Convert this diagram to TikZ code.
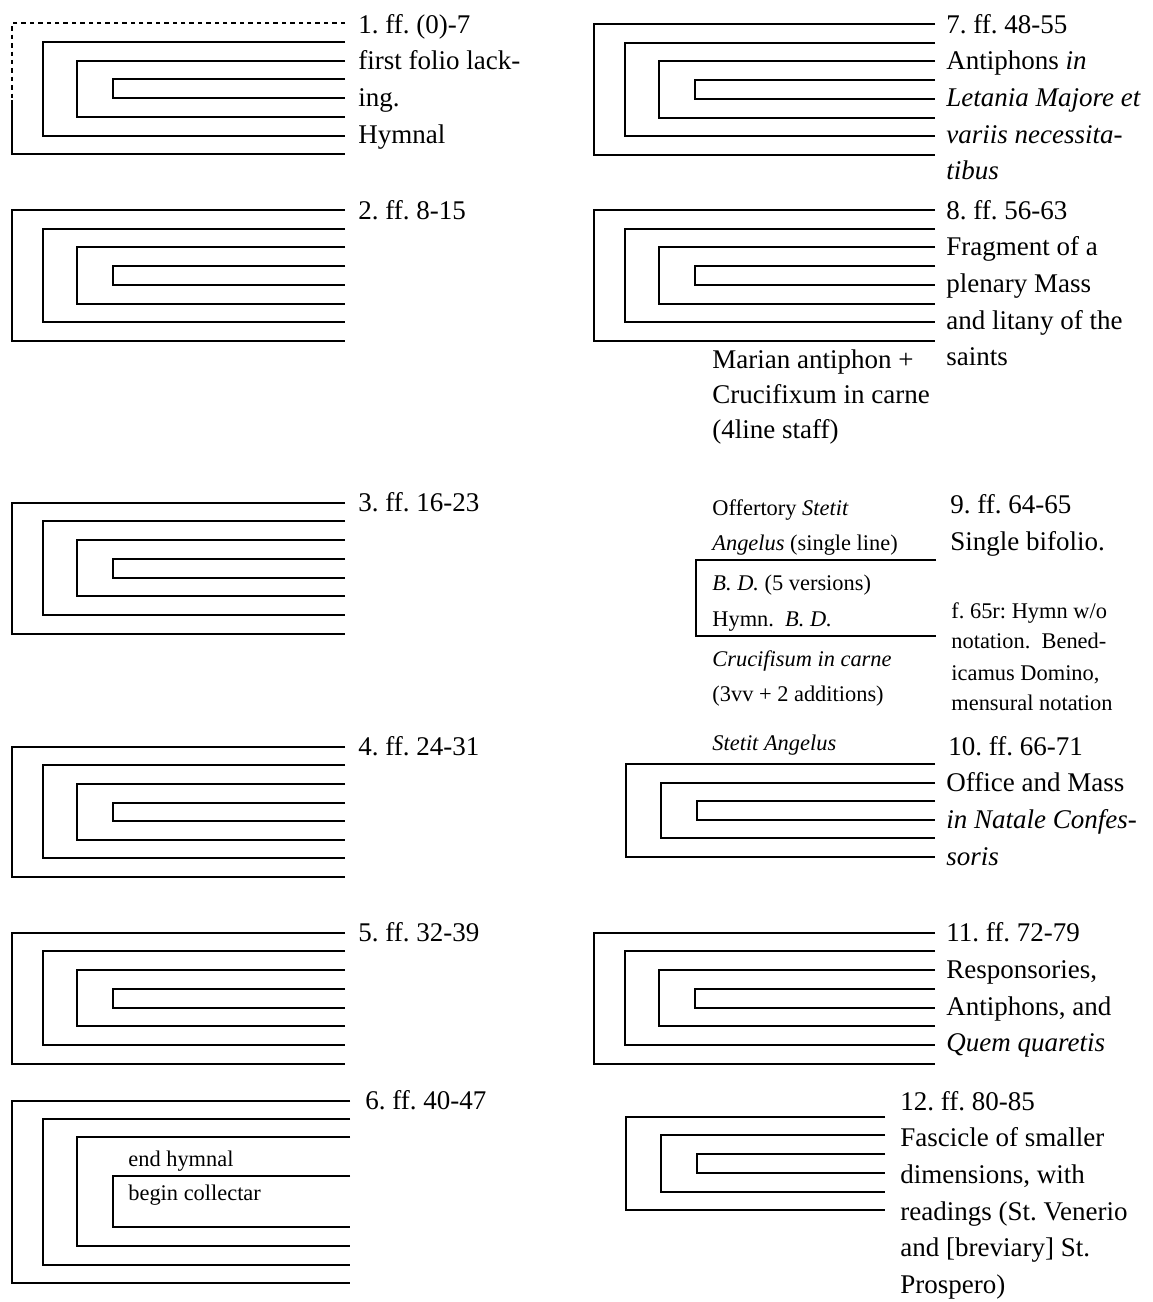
\documentclass[tikz,border=0pt]{standalone}
\usepackage{fontspec}
\setmainfont{Liberation Serif}
\frenchspacing
\tikzset{
  gl/.style={line width=1pt},
  lostleaf/.style={line width=1.1pt, dash pattern=on 2.2pt off 2pt},
  lbl/.style={anchor=base west, inner sep=0pt, font=\fontsize{13.5}{16}\selectfont},
  sml/.style={anchor=base west, inner sep=0pt, font=\fontsize{11.2}{13}\selectfont},
}
% four nested bifolia: #1 outer left x, #2 top y, #3 spacing, #4 right x
\newcommand\quireA[4]{%
  \foreach \i/\dx in {0/0,1/31,2/65,3/101}{%
    \draw[gl] (#4,#2+\i*#3) -- (#1+\dx,#2+\i*#3) -- (#1+\dx,#2+7*#3-\i*#3) -- (#4,#2+7*#3-\i*#3);}}
% three nested bifolia
\newcommand\quireB[4]{%
  \foreach \i/\dx in {0/0,1/35,2/71}{%
    \draw[gl] (#4,#2+\i*#3) -- (#1+\dx,#2+\i*#3) -- (#1+\dx,#2+5*#3-\i*#3) -- (#4,#2+5*#3-\i*#3);}}
\begin{document}
\begin{tikzpicture}[x=0.5pt,y=-0.5pt]
\useasboundingbox (0,0) rectangle (1152,1302);

% ---------- left column ----------
% 1
\draw[lostleaf] (345,23.3) -- (12,23.3) -- (12,100);
\draw[gl] (12,100) -- (12,154.2) -- (345,154.2);
\foreach \i/\dx in {1/31,2/65,3/101}{%
  \draw[gl] (345,23.3+\i*18.7) -- (12+\dx,23.3+\i*18.7) -- (12+\dx,23.3+7*18.7-\i*18.7) -- (345,23.3+7*18.7-\i*18.7);}
\node[lbl] (t1a) at (358,33) {1. ff. (0)-7};
\node[lbl] (t1b) at (358,69.7) {first folio lack-};
\node[lbl] (t1c) at (358,106.3) {ing.};
\node[lbl] (t1d) at (358,143) {Hymnal};
% 2
\quireA{12}{210}{18.7}{345}
\node[lbl] (t2a) at (358,219) {2. ff. 8-15};
% 3
\quireA{12}{502.7}{18.7}{345}
\node[lbl] (t3a) at (358,511.7) {3. ff. 16-23};
% 4
\quireA{12}{746.7}{18.6}{345}
\node[lbl] (t4a) at (358,755.7) {4. ff. 24-31};
% 5
\quireA{12}{932.7}{18.7}{345}
\node[lbl] (t5a) at (358,941.7) {5. ff. 32-39};
% 6
\draw[gl] (350,1100.7) -- (12,1100.7) -- (12,1283.3) -- (350,1283.3);
\draw[gl] (350,1119.3) -- (43,1119.3) -- (43,1264.7) -- (350,1264.7);
\draw[gl] (350,1137.3) -- (77,1137.3) -- (77,1245.7) -- (350,1245.7);
\draw[gl] (350,1176) -- (113,1176) -- (113,1227.3) -- (350,1227.3);
\node[lbl] (t6a) at (365,1109.5) {6. ff. 40-47};
\node[sml] (t6b) at (128,1166) {end hymnal};
\node[sml] (t6c) at (128,1200) {begin collectar};

% ---------- right column ----------
% 7
\quireA{594}{24}{18.7}{935}
\node[lbl] (t7a) at (946,33) {7. ff. 48-55};
\node[lbl] (t7b) at (946,69.7) {Antiphons \textit{in}};
\node[lbl] (t7c) at (946,106.3) {\textit{Letania Majore et}};
\node[lbl] (t7d) at (946,143) {\textit{variis necessita-}};
\node[lbl] (t7e) at (946,179.7) {\textit{tibus}};
% 8
\quireA{594}{210}{18.7}{935}
\node[lbl] (t8a) at (946,219) {8. ff. 56-63};
\node[lbl] (t8b) at (946,255.7) {Fragment of a};
\node[lbl] (t8c) at (946,292.3) {plenary Mass};
\node[lbl] (t8d) at (946,329) {and litany of the};
\node[lbl] (t8e) at (946,365.7) {saints};
\node[lbl] (m8a) at (712,368.3) {Marian antiphon +};
\node[lbl] (m8b) at (712,403.3) {Crucifixum in carne};
\node[lbl] (m8c) at (712,438.3) {(4line staff)};
% 9
\draw[gl] (936,560) -- (696,560) -- (696,636) -- (936,636);
\node[lbl] (t9a) at (950,513.3) {9. ff. 64-65};
\node[lbl] (t9b) at (950,550) {Single bifolio.};
\node[sml] (t9c) at (951,618.3) {f. 65r: Hymn w/o};
\node[sml] (t9d) at (951,648.3) {notation.\ \ Bened-};
\node[sml] (t9e) at (951,680) {icamus Domino,};
\node[sml] (t9f) at (951,710) {mensural notation};
\node[sml] (m9a) at (712,515) {Offertory \textit{Stetit}};
\node[sml] (m9b) at (712,550) {\textit{Angelus} (single line)};
\node[sml] (m9c) at (712,590) {\textit{B. D.} (5 versions)};
\node[sml] (m9d) at (712,626.7) {Hymn.\ \ \textit{B. D.}};
\node[sml] (m9e) at (712,666.7) {\textit{Crucifisum in carne}};
\node[sml] (m9f) at (712,701.7) {(3vv + 2 additions)};
\node[sml] (m9g) at (712,750) {\textit{Stetit Angelus}};
% 10
\quireB{626}{764}{18.6}{935}
\node[lbl] (t10a) at (948,755) {10. ff. 66-71};
\node[lbl] (t10b) at (946,791.7) {Office and Mass};
\node[lbl] (t10c) at (946,828.3) {\textit{in Natale Confes-}};
\node[lbl] (t10d) at (946,865) {\textit{soris}};
% 11
\quireA{594}{932.7}{18.7}{935}
\node[lbl] (t11a) at (946,941.7) {11. ff. 72-79};
\node[lbl] (t11b) at (946,978.3) {Responsories,};
\node[lbl] (t11c) at (946,1015) {Antiphons, and};
\node[lbl] (t11d) at (946,1051.7) {\textit{Quem quaretis}};
% 12
\quireB{626}{1116.7}{18.7}{885}
\node[lbl] (t12a) at (900,1110) {12. ff. 80-85};
\node[lbl] (t12b) at (900,1146.7) {Fascicle of smaller};
\node[lbl] (t12c) at (900,1183.3) {dimensions, with};
\node[lbl] (t12d) at (900,1220) {readings (St. Venerio};
\node[lbl] (t12e) at (900,1256.7) {and [breviary] St.};
\node[lbl] (t12f) at (900,1293.3) {Prospero)};
\end{tikzpicture}
\end{document}
